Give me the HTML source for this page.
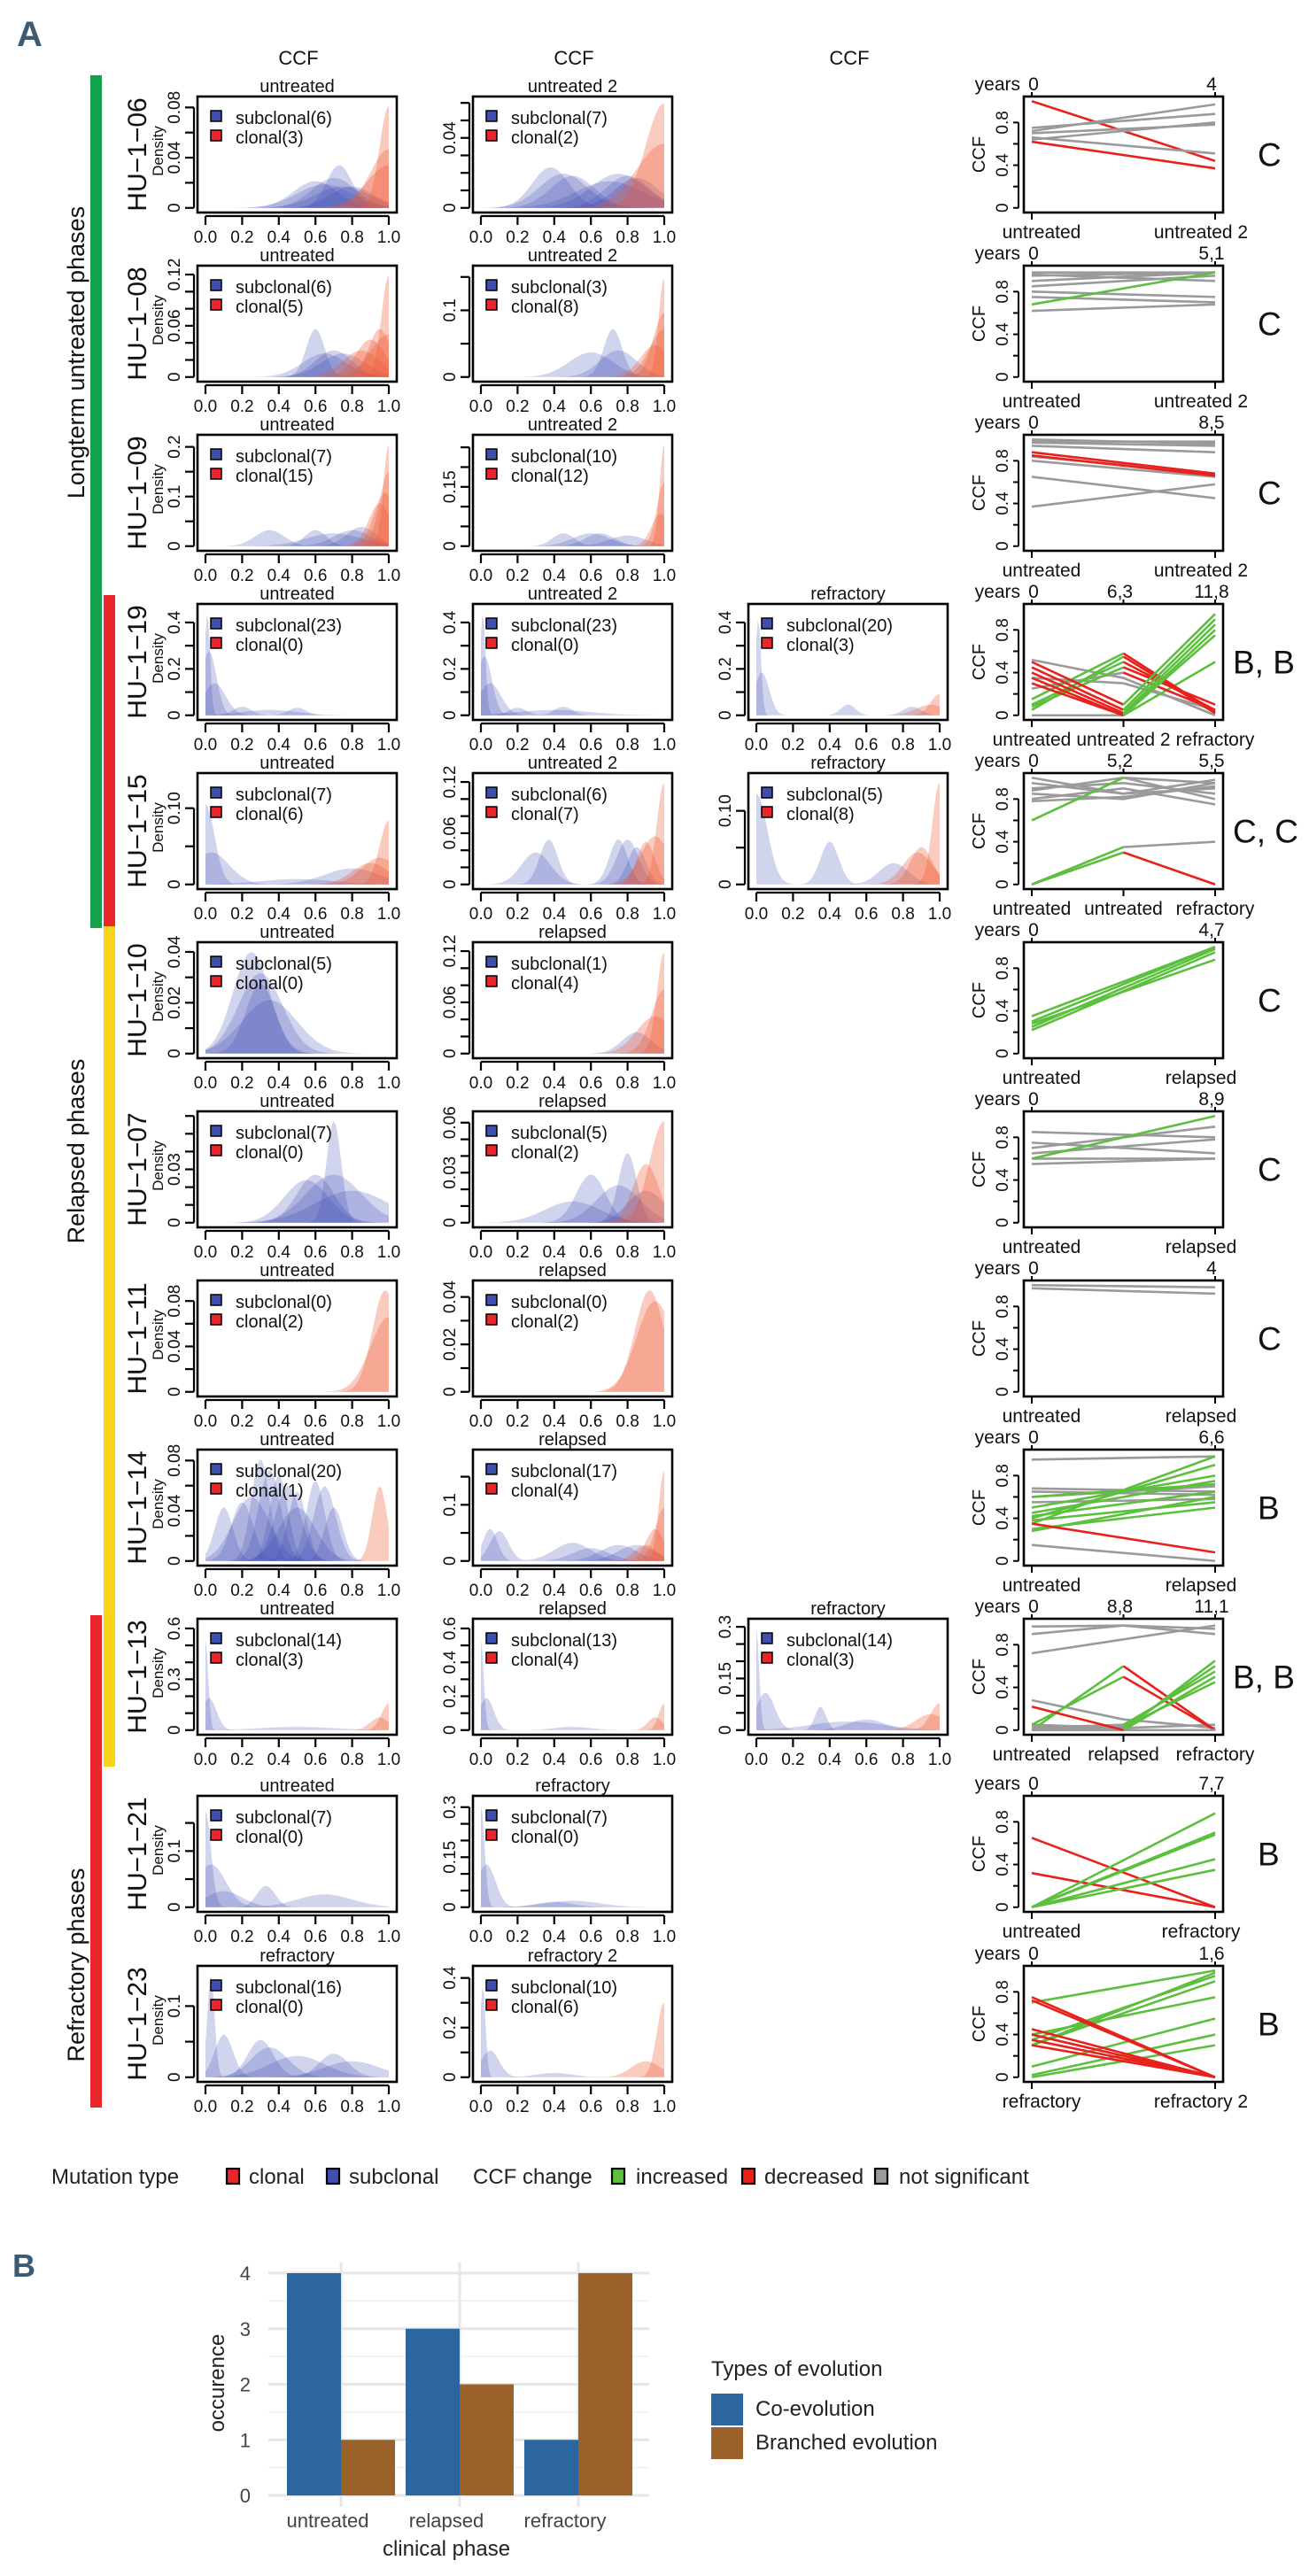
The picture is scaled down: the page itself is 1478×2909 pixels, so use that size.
<!DOCTYPE html>
<html><head><meta charset="utf-8"><title>CCF density and evolution figure</title>
<style>
html,body{margin:0;padding:0;background:#fff;}
svg{display:block;font-family:"Liberation Sans",sans-serif;}
</style></head>
<body>
<svg id="fig" xmlns="http://www.w3.org/2000/svg" width="1478" height="2909" viewBox="0 0 1478 2909">
<rect x="0" y="0" width="1478" height="2909" fill="#fff"/>
</svg>
<script>
// ---------- DATA ----------
const rowIds=["HU\u22121\u221206","HU\u22121\u221208","HU\u22121\u221209","HU\u22121\u221219","HU\u22121\u221215","HU\u22121\u221210","HU\u22121\u221207","HU\u22121\u221211","HU\u22121\u221214","HU\u22121\u221213","HU\u22121\u221221","HU\u22121\u221223"];
const panelTitles=[["untreated","untreated 2"],["untreated","untreated 2"],["untreated","untreated 2"],["untreated","untreated 2","refractory"],["untreated","untreated 2","refractory"],["untreated","relapsed"],["untreated","relapsed"],["untreated","relapsed"],["untreated","relapsed"],["untreated","relapsed","refractory"],["untreated","refractory"],["refractory","refractory 2"]];
const subclonalCounts=[[6,7],[6,3],[7,10],[23,23,20],[7,6,5],[5,1],[7,5],[0,0],[20,17],[14,13,14],[7,7],[16,10]];
const clonalCounts=[[3,2],[5,8],[15,12],[0,0,3],[6,7,8],[0,4],[0,2],[2,2],[1,4],[3,4,3],[0,0],[0,6]];
const yMaxes=[[0.085,0.061],[0.125,0.16],[0.215,0.27],[0.46,0.46,0.46],[0.14,0.125,0.145],[0.042,0.125],[0.06,0.064],[0.094,0.045],[0.085,0.19],[0.63,0.63,0.31],[0.19,0.32],[0.15,0.43]];
const yTickVals=[[[0,0.02,0.04,0.06,0.08],[0,0.01,0.02,0.03,0.04,0.05,0.06]],[[0,0.02,0.04,0.06,0.08,0.1,0.12],[0,0.05,0.1,0.15]],[[0,0.05,0.1,0.15,0.2],[0,0.05,0.1,0.15,0.2,0.25]],[[0,0.1,0.2,0.3,0.4],[0,0.1,0.2,0.3,0.4],[0,0.1,0.2,0.3,0.4]],[[0,0.05,0.1],[0,0.02,0.04,0.06,0.08,0.1,0.12],[0,0.05,0.1]],[[0,0.01,0.02,0.03,0.04],[0,0.02,0.04,0.06,0.08,0.1,0.12]],[[0,0.01,0.02,0.03,0.04,0.05,0.06],[0,0.01,0.02,0.03,0.04,0.05,0.06]],[[0,0.02,0.04,0.06,0.08],[0,0.01,0.02,0.03,0.04]],[[0,0.02,0.04,0.06,0.08],[0,0.05,0.1,0.15]],[[0,0.1,0.2,0.3,0.4,0.5,0.6],[0,0.1,0.2,0.3,0.4,0.5,0.6],[0,0.05,0.1,0.15,0.2,0.25,0.3]],[[0,0.05,0.1,0.15],[0,0.05,0.1,0.15,0.2,0.25,0.3]],[[0,0.05,0.1],[0,0.1,0.2,0.3,0.4]]];
const yTickLabels=[[["0","","0.04","","0.08"],["0","","","","0.04","",""]],[["0","","","0.06","","","0.12"],["0","","0.1",""]],[["0","","0.1","","0.2"],["0","","","0.15","",""]],[["0","","0.2","","0.4"],["0","","0.2","","0.4"],["0","","0.2","","0.4"]],[["0","","0.10"],["0","","","0.06","","","0.12"],["0","","0.10"]],[["0","","0.02","","0.04"],["0","","","0.06","","","0.12"]],[["0","","","0.03","","",""],["0","","","0.03","","","0.06"]],[["0","","0.04","","0.08"],["0","","0.02","","0.04"]],[["0","","0.04","","0.08"],["0","","0.1",""]],[["0","","","0.3","","","0.6"],["0","","0.2","","0.4","","0.6"],["0","","","0.15","","","0.3"]],[["0","","0.1",""],["0","","","0.15","","","0.3"]],[["0","","0.1"],["0","","0.2","","0.4"]]];
// density components: [centre, spread, peak as fraction of panel max]
const subCurves=[
[[[0.6,0.12,0.25],[0.73,0.07,0.4],[0.7,0.12,0.28],[0.65,0.15,0.22],[0.75,0.15,0.2],[0.8,0.12,0.2]],
 [[0.38,0.1,0.38],[0.45,0.13,0.32],[0.5,0.12,0.3],[0.8,0.12,0.3],[0.75,0.15,0.32],[0.85,0.12,0.28],[0.7,0.18,0.25]]],
[[[0.6,0.05,0.45],[0.7,0.1,0.25],[0.65,0.12,0.22],[0.75,0.12,0.22]],
 [[0.72,0.05,0.45],[0.6,0.12,0.23],[0.75,0.1,0.25]]],
[[[0.35,0.08,0.15],[0.6,0.06,0.15],[0.8,0.1,0.15],[0.7,0.15,0.12],[0.85,0.08,0.18]],
 [[0.45,0.06,0.12],[0.6,0.1,0.12],[0.65,0.08,0.12],[0.8,0.1,0.1]]],
[[[0.01,0.015,0.95],[0.02,0.04,0.6],[0.05,0.06,0.3],[0.2,0.05,0.08],[0.5,0.05,0.07],[0.35,0.15,0.05]],
 [[0.01,0.015,0.95],[0.02,0.04,0.55],[0.05,0.06,0.3],[0.2,0.05,0.07],[0.45,0.05,0.08],[0.4,0.2,0.05]],
 [[0.01,0.015,0.9],[0.03,0.04,0.4],[0.5,0.04,0.1],[0.85,0.05,0.08]]],
[[[0.0,0.05,0.75],[0.03,0.1,0.3],[0.8,0.15,0.15],[0.5,0.2,0.05]],
 [[0.3,0.08,0.3],[0.37,0.05,0.42],[0.75,0.05,0.42],[0.8,0.06,0.42],[0.85,0.05,0.35]],
 [[0.0,0.06,0.85],[0.4,0.05,0.4],[0.75,0.08,0.2]]],
[[[0.25,0.1,0.95],[0.3,0.12,0.75],[0.35,0.15,0.5],[0.3,0.08,0.65]],
 [[0.85,0.08,0.2]]],
[[[0.7,0.04,0.95],[0.6,0.1,0.45],[0.55,0.12,0.4],[0.7,0.15,0.45],[0.8,0.2,0.3]],
 [[0.6,0.08,0.45],[0.8,0.05,0.65],[0.75,0.12,0.35],[0.9,0.1,0.3],[0.5,0.15,0.2]]],
[[],[]],
[[[0.1,0.05,0.5],[0.2,0.06,0.55],[0.3,0.05,0.95],[0.35,0.06,0.85],[0.4,0.05,0.8],[0.45,0.07,0.7],[0.5,0.05,0.65],[0.6,0.05,0.75],[0.65,0.06,0.7],[0.25,0.1,0.6],[0.5,0.1,0.5],[0.7,0.05,0.5]],
 [[0.05,0.04,0.3],[0.1,0.05,0.28],[0.5,0.1,0.17],[0.6,0.1,0.12],[0.75,0.1,0.15],[0.85,0.1,0.15]]],
[[[0.0,0.015,0.85],[0.02,0.04,0.3],[0.5,0.2,0.03]],
 [[0.0,0.015,0.85],[0.03,0.04,0.3],[0.5,0.1,0.03]],
 [[0.0,0.015,0.95],[0.05,0.05,0.35],[0.35,0.03,0.22],[0.6,0.1,0.1],[0.5,0.2,0.08]]],
[[[0.0,0.03,0.9],[0.03,0.08,0.4],[0.33,0.05,0.2],[0.65,0.15,0.12],[0.1,0.1,0.15]],
 [[0.0,0.02,0.95],[0.03,0.05,0.4],[0.5,0.15,0.06],[0.4,0.1,0.05]]],
[[[0.03,0.02,0.95],[0.1,0.05,0.4],[0.3,0.07,0.35],[0.35,0.1,0.28],[0.7,0.08,0.22],[0.5,0.15,0.2],[0.8,0.15,0.15]],
 [[0.01,0.015,0.85],[0.05,0.05,0.25],[0.4,0.1,0.04]]]];
const clonCurves=[
[[[1,0.05,0.95],[1,0.1,0.55],[1,0.12,0.4]],[[1,0.1,0.98],[1,0.15,0.6]]],
[[[1,0.04,0.95],[0.9,0.08,0.35],[0.95,0.06,0.45],[1,0.1,0.4],[0.85,0.1,0.25]],[[1,0.03,0.93],[1,0.06,0.6],[1,0.08,0.45],[0.95,0.08,0.3]]],
[[[1,0.03,0.95],[1,0.05,0.7],[0.98,0.06,0.5],[0.95,0.06,0.4]],[[1,0.025,0.95],[1,0.04,0.6],[0.98,0.05,0.3]]],
[[],[],[[1,0.05,0.2],[0.95,0.08,0.1]]],
[[[1,0.05,0.6],[0.95,0.1,0.25],[0.9,0.1,0.2]],[[1,0.04,0.95],[0.9,0.05,0.4],[0.95,0.08,0.45]],[[1,0.04,0.95],[0.9,0.06,0.35],[0.88,0.08,0.3]]],
[[],[[1,0.04,0.95],[1,0.07,0.6],[0.95,0.1,0.35]]],
[[],[[1,0.08,0.95],[0.9,0.07,0.55]]],
[[[0.98,0.07,0.95],[1,0.1,0.7]],[[0.92,0.08,0.95],[0.95,0.1,0.85]]],
[[[0.95,0.04,0.7]],[[1,0.03,0.85],[1,0.05,0.5],[0.95,0.05,0.3],[0.9,0.06,0.15]]],
[[[1,0.04,0.25],[0.95,0.05,0.12]],[[1,0.03,0.25],[0.95,0.04,0.12]],[[1,0.05,0.25],[0.95,0.08,0.15]]],
[[],[]],
[[],[[1,0.04,0.7],[0.9,0.08,0.15]]]];
// CCF change panels
const lineYears=[["0","4"],["0","5,1"],["0","8,5"],["0","6,3","11,8"],["0","5,2","5,5"],["0","4,7"],["0","8,9"],["0","4"],["0","6,6"],["0","8,8","11,1"],["0","7,7"],["0","1,6"]];
const lineXLabels=[["untreated","untreated 2"],["untreated","untreated 2"],["untreated","untreated 2"],["untreated","untreated 2","refractory"],["untreated","untreated","refractory"],["untreated","relapsed"],["untreated","relapsed"],["untreated","relapsed"],["untreated","relapsed"],["untreated","relapsed","refractory"],["untreated","refractory"],["refractory","refractory 2"]];
const evolutionLetters=["C","C","C","B, B","C, C","C","C","C","B","B, B","B","B"];
// each entry: CCF values per time point, then segment colours (g increased, r decreased, n not significant)
const ccfLines=[
[[[1.0,0.44],"r"],[[0.62,0.37],"r"],[[0.72,0.97],"n"],[[0.70,0.78],"n"],[[0.66,0.51],"n"],[[0.64,0.80],"n"],[[0.75,0.88],"n"]],
[[[0.98,0.98],"n"],[[0.95,0.98],"n"],[[0.9,0.98],"n"],[[0.85,0.95],"n"],[[0.8,0.75],"n"],[[0.75,0.7],"n"],[[0.62,0.68],"n"],[[0.96,0.9],"n"],[[0.68,0.98],"g"]],
[[[0.98,0.98],"n"],[[0.97,0.94],"n"],[[0.94,0.88],"n"],[[0.84,0.68],"n"],[[0.8,0.65],"n"],[[0.65,0.45],"n"],[[0.37,0.58],"n"],[[1.0,0.96],"n"],[[0.88,0.68],"r"],[[0.85,0.66],"r"]],
[[[0.52,0.35,0.0],"nn"],[[0.35,0.3,0.05],"nn"],[[0.0,0.0,0.5],"ng"],[[0.25,0.4,0.05],"nr"],[[0.05,0.55,0.02],"gr"],[[0.1,0.5,0.05],"gr"],[[0.08,0.45,0.1],"gr"],[[0.15,0.58,0.03],"gr"],[[0.5,0.1,0.95],"rg"],[[0.45,0.05,0.9],"rg"],[[0.4,0.02,0.85],"rg"],[[0.35,0.0,0.8],"rg"],[[0.3,0.0,0.75],"rg"]],
[[[0.95,0.85,0.98],"nn"],[[0.9,0.95,0.85],"nn"],[[0.85,0.8,0.95],"nn"],[[0.8,0.9,0.75],"nn"],[[1.0,0.85,0.9],"nn"],[[0.88,1.0,0.8],"nn"],[[0.78,0.82,0.92],"nn"],[[0.6,1.0,0.95],"gn"],[[0.0,0.35,0.4],"gn"],[[0.0,0.3,0.0],"gr"]],
[[[0.3,1.0],"g"],[[0.25,0.98],"g"],[[0.22,0.95],"g"],[[0.35,1.0],"g"],[[0.28,0.88],"g"]],
[[[0.75,0.65],"n"],[[0.65,0.78],"n"],[[0.7,0.9],"n"],[[0.6,0.6],"n"],[[0.85,0.8],"n"],[[0.55,0.6],"n"],[[0.6,1.0],"g"]],
[[[1.0,0.98],"n"],[[0.97,0.92],"n"]],
[[[0.95,0.98],"n"],[[0.15,0.0],"n"],[[0.65,0.62],"n"],[[0.6,0.7],"n"],[[0.55,0.58],"n"],[[0.68,0.65],"n"],[[0.4,0.9],"g"],[[0.35,0.98],"g"],[[0.45,0.75],"g"],[[0.3,0.5],"g"],[[0.5,0.8],"g"],[[0.42,0.65],"g"],[[0.38,0.55],"g"],[[0.6,0.72],"g"],[[0.28,0.6],"g"],[[0.35,0.08],"r"]],
[[[0.97,0.98,0.95],"nn"],[[0.9,0.98,0.9],"nn"],[[0.72,0.85,0.98],"nn"],[[0.28,0.1,0.02],"nn"],[[0.05,0.02,0.05],"nn"],[[0.0,0.6,0.0],"gr"],[[0.05,0.5,0.0],"gr"],[[0.0,0.0,0.65],"ng"],[[0.02,0.05,0.55],"ng"],[[0.0,0.02,0.6],"ng"],[[0.03,0.0,0.5],"ng"],[[0.0,0.03,0.45],"ng"],[[0.22,0.0,0.0],"rn"]],
[[[0.65,0.0],"r"],[[0.32,0.0],"r"],[[0.0,0.88],"g"],[[0.0,0.7],"g"],[[0.0,0.68],"g"],[[0.0,0.45],"g"],[[0.0,0.35],"g"]],
[[[0.7,1.0],"g"],[[0.3,0.98],"g"],[[0.35,0.95],"g"],[[0.3,0.9],"g"],[[0.1,0.55],"g"],[[0.02,0.4],"g"],[[0.0,0.3],"g"],[[0.4,0.75],"g"],[[0.75,0.0],"r"],[[0.72,0.0],"r"],[[0.45,0.0],"r"],[[0.4,0.0],"r"],[[0.3,0.0],"r"],[[0.35,0.0],"r"]]];
// bar chart (panel B)
const barCategories=["untreated","relapsed","refractory"];
const coEvolutionCounts=[4,3,1];
const branchedEvolutionCounts=[1,2,4];
const barTicks=[0,1,2,3,4];

// ---------- DRAWING ----------
const NS="http://www.w3.org/2000/svg";
const svg=document.getElementById("fig");
function mk(tag,attrs,parent){const e=document.createElementNS(NS,tag);for(const k in attrs)e.setAttribute(k,attrs[k]);(parent||svg).appendChild(e);return e;}
function tx(x,y,s,size,anchor,rot,fill,parent){
  const a={x:x,y:y,"font-size":size,"text-anchor":anchor||"start",fill:fill||"#111"};
  if(rot)a.transform="rotate(-90 "+x+" "+y+")";
  const e=mk("text",a,parent);e.textContent=s;return e;}

const rowTops=[109,300,491,682,873,1064,1255,1446,1637,1828,2028,2220];
const colX=[223,534,845];
const BW=225,BH=131;
const colMap={g:"#5cbf3e",r:"#e8211d",n:"#9a9a9a"};

// A label and headers
let e=tx(19,52,"A",40,"start",false,"#3d5a73");


e.setAttribute("font-weight","bold");
["CCF","CCF","CCF"].forEach((s,i)=>{
  const h=tx(colX[i]+114,73,s,22,"middle");
  
  
});

// phase bars
const phaseBars=[[102,85,963,"#13a14b","longterm-untreated-bar"],[117,672,374,"#e8262b","untreated-refractory-bar"],[117,1046,949,"#f7d417","relapsed-bar"],[102,1824,556,"#e8262b","refractory-bar"]];
phaseBars.forEach(p=>{
  const r=mk("rect",{x:p[0],y:p[1],width:13,height:p[2],fill:p[3]});
  
  
});
[["Longterm untreated phases",398],["Relapsed phases",1300],["Refractory phases",2219]].forEach(p=>{
  const t=tx(95,p[1],p[0],27,"middle",true);
  
  
});

function gaussPath(curve,xs,ys,ymax){
  let d="M"+xs(0)+","+ys(0);
  for(let i=0;i<=120;i++){const v=i/120;const y=curve[2]*ymax*Math.exp(-0.5*Math.pow((v-curve[0])/curve[1],2));d+=" L"+xs(v).toFixed(1)+","+ys(y).toFixed(1);}
  d+=" L"+xs(1)+","+ys(0)+" Z";return d;}

let clipId=0;
for(let r=0;r<rowIds.length;r++){
  const by=rowTops[r];
  const rowG=mk("g",{});
  
  
  const lab=tx(colX[0]-58,by+BH/2,rowIds[r],30,"middle",true,"#111",rowG);
  
  
  const dl=tx(colX[0]-39,by+BH/2-4,"Density",17,"middle",true,"#111",rowG);
  
  
  for(let c=0;c<panelTitles[r].length;c++){
    const bx=colX[c],ymax=yMaxes[r][c];
    const xs=v=>bx+BW*0.04+v*BW*0.92;
    const ys=v=>by+BH-BH*0.04-v/ymax*BH*0.92;
    const pg=mk("g",{},rowG);
    
    
    const cp=mk("clipPath",{id:"cp"+(++clipId)},pg);
    mk("rect",{x:bx,y:by,width:BW,height:BH},cp);
    const cg=mk("g",{"clip-path":"url(#cp"+clipId+")"},pg);
    subCurves[r][c].forEach(cv=>{
      const p=mk("path",{d:gaussPath(cv,xs,ys,ymax),fill:"rgb(62,76,178)","fill-opacity":0.24},cg);
      
      
    });
    clonCurves[r][c].forEach(cv=>{
      const p=mk("path",{d:gaussPath(cv,xs,ys,ymax),fill:"rgb(240,85,45)","fill-opacity":0.3},cg);
      
      
    });
    const box=mk("rect",{x:bx,y:by,width:BW,height:BH,fill:"none",stroke:"#000","stroke-width":2.6},pg);
    
    
    const tt=tx(bx+BW/2,by-5,panelTitles[r][c],20,"middle",false,"#111",pg);
    
    
    // x axis
    const xa=mk("line",{x1:xs(0),x2:xs(1),y1:by+BH+4,y2:by+BH+4,stroke:"#000","stroke-width":2.2},pg);
    
    
    for(let k=0;k<=5;k++){
      const v=k/5;
      mk("line",{x1:xs(v),x2:xs(v),y1:by+BH+4,y2:by+BH+14,stroke:"#000","stroke-width":2.2},pg);
      const tl=tx(xs(v),by+BH+34,v.toFixed(1),19,"middle",false,"#111",pg);
      
      
    }
    // y axis
    const tv=yTickVals[r][c],tlb=yTickLabels[r][c];
    const ya=mk("line",{x1:bx-4,x2:bx-4,y1:ys(tv[0]),y2:ys(tv[tv.length-1]),stroke:"#000","stroke-width":2.2},pg);
    
    
    tv.forEach((v,k)=>{
      mk("line",{x1:bx-14,x2:bx-4,y1:ys(v),y2:ys(v),stroke:"#000","stroke-width":2.2},pg);
      if(tlb[k]){const yl=tx(bx-20,ys(v),tlb[k],19,"middle",true,"#111",pg);
        
        }
    });
    // legend
    const l1=mk("rect",{x:bx+15,y:by+16,width:12,height:12,fill:"#3f4fb0",stroke:"#000","stroke-width":1.5},pg);
    
    
    const l2=mk("rect",{x:bx+15,y:by+38,width:12,height:12,fill:"#e8262b",stroke:"#000","stroke-width":1.5},pg);
    
    
    const t1=tx(bx+43,by+31,"subclonal("+subclonalCounts[r][c]+")",20,"start",false,"#111",pg);
    
    
    const t2=tx(bx+43,by+53,"clonal("+clonalCounts[r][c]+")",20,"start",false,"#111",pg);
    
    
  }
  // CCF change panel
  const lx=1156;
  const n=lineYears[r].length;
  const px=k=>lx+BW*0.04+(n===2?k:k/2)*BW*0.92;
  const py=v=>by+BH-BH*0.04-v*BH*0.92;
  const lg=mk("g",{},rowG);
  
  
  ccfLines[r].forEach(ln=>{
    const vals=ln[0],cols=ln[1];
    for(let k=0;k<vals.length-1;k++){
      const s=mk("line",{x1:px(k),y1:py(vals[k]),x2:px(k+1),y2:py(vals[k+1]),stroke:colMap[cols[k]],"stroke-width":2.6},lg);
      
      
    }
  });
  const lb=mk("rect",{x:lx,y:by,width:BW,height:BH,fill:"none",stroke:"#000","stroke-width":2.6},lg);
  
  
  const cy=tx(1112,by+BH/2,"CCF",20,"middle",true,"#111",lg);
  
  
  mk("line",{x1:lx-6,x2:lx-6,y1:py(0),y2:py(0.8),stroke:"#000","stroke-width":2},lg);
  [0,0.2,0.4,0.6,0.8].forEach(v=>{
    mk("line",{x1:lx-12,x2:lx-6,y1:py(v),y2:py(v),stroke:"#000","stroke-width":2},lg);
    if(v===0||v===0.4||v===0.8){const yl=tx(1138,py(v),v===0?"0":String(v),19,"middle",true,"#111",lg);
      
      }
  });
  const yr=tx(1152,by-7,"years",21,"end",false,"#111",lg);
  
  
  for(let k=0;k<n;k++){
    mk("line",{x1:px(k),x2:px(k),y1:by-5,y2:by,stroke:"#000","stroke-width":2},lg);
    mk("line",{x1:px(k),x2:px(k),y1:by+BH,y2:by+BH+8,stroke:"#000","stroke-width":2},lg);
    const yv=tx(px(k)+(k===0?2:-4),by-7,lineYears[r][k],21,"middle",false,"#111",lg);
    
    
    let cx=px(k);
    if(n===2)cx=k===0?1176:1356;
    const xl=tx(cx,by+BH+29,lineXLabels[r][k],21,"middle",false,"#111",lg);
    
    
  }
  const letter=tx(r===3||r===4||r===9?1392:1420,by+BH/2+13,evolutionLetters[r],37,"start",false,"#111",lg);
  
  
}

// bottom legend
const legG=mk("g",{});


const legItems=[["Mutation type",58,null],["clonal",281,"#e8262b",256],["subclonal",394,"#3f4fb0",369],["CCF change",534,null],["increased",718,"#5cbf3e",691],["decreased",863,"#e8211d",838],["not significant",1015,"#9a9a9a",988]];
legItems.forEach(it=>{
  if(it[2]){const sq=mk("rect",{x:it[3],y:2449,width:14,height:17,fill:it[2],stroke:"#000","stroke-width":2.2},legG);
    
    }
  const t=tx(it[1],2466,it[0],24,"start",false,"#222",legG);
  
  
});

// Panel B
e=tx(14,2571,"B",36,"start",false,"#3d5a73");


e.setAttribute("font-weight","bold");
const bg=mk("g",{});


const yB=v=>2818-v*62.75;
const xC=i=>385+i*134;
for(let v=0;v<4;v++){mk("line",{x1:303,x2:733,y1:yB(v+0.5),y2:yB(v+0.5),stroke:"#f0f0f0","stroke-width":1.5},bg);}
barTicks.forEach(v=>{
  const g=mk("line",{x1:303,x2:733,y1:yB(v),y2:yB(v),stroke:"#e6e6e6","stroke-width":3},bg);
  
  
  const t=tx(283,yB(v)+8,String(v),22,"end",false,"#444",bg);
  
  
});
barCategories.forEach((c,i)=>{
  mk("line",{x1:xC(i),x2:xC(i),y1:2555,y2:2831,stroke:"#e6e6e6","stroke-width":3},bg);
});
barCategories.forEach((c,i)=>{
  const b1=mk("rect",{x:xC(i)-61,y:yB(coEvolutionCounts[i]),width:61,height:yB(0)-yB(coEvolutionCounts[i]),fill:"#2c66a0"},bg);
  
  
  const b2=mk("rect",{x:xC(i),y:yB(branchedEvolutionCounts[i]),width:61,height:yB(0)-yB(branchedEvolutionCounts[i]),fill:"#9b612b"},bg);
  
  
  const t=tx(xC(i)-15,2854,c,22,"middle",false,"#444",bg);
  
  
});
e=tx(504,2886,"clinical phase",24,"middle",false,"#222",bg);


e=tx(253,2691,"occurence",24,"middle",true,"#222",bg);


e=tx(803,2683,"Types of evolution",24,"start",false,"#222",bg);


e=mk("rect",{x:803,y:2703,width:36,height:36,fill:"#2c66a0"},bg);


e=mk("rect",{x:803,y:2741,width:36,height:36,fill:"#9b612b"},bg);


e=tx(853,2728,"Co-evolution",24,"start",false,"#222",bg);


e=tx(853,2766,"Branched evolution",24,"start",false,"#222",bg);


</script>
</body></html>
